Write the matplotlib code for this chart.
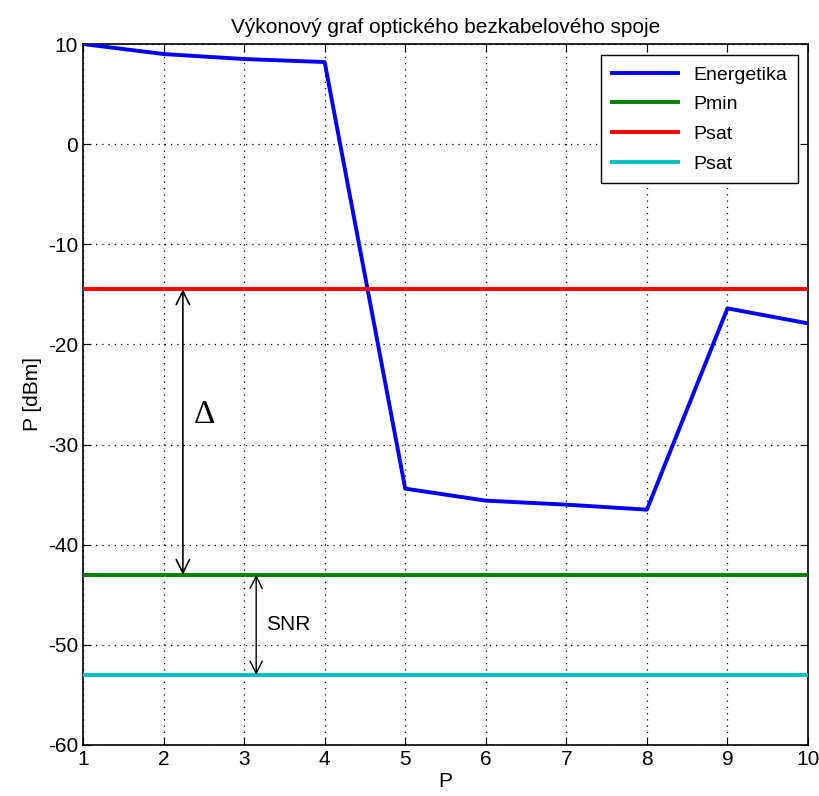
import matplotlib
matplotlib.use("Agg")
import matplotlib.pyplot as plt

plt.rcParams['font.family'] = ['Liberation Sans Narrow', 'Liberation Sans', 'DejaVu Sans']
plt.rcParams['axes.unicode_minus'] = False

x = [1, 2, 3, 4, 5, 6, 7, 8, 9, 10]
energetika = [10, 9.0, 8.5, 8.2, -34.4, -35.6, -36.0, -36.5, -16.4, -17.9]
p_min = -43
p_sat = -14.5
p_noise = -53

fig = plt.figure(figsize=(8.19, 7.96), dpi=100)
ax = fig.add_axes([0.1013, 0.0641, 0.8853, 0.8806])

ax.plot(x, energetika, color="#0000ff", lw=2.8, label="Energetika", zorder=3)
ax.plot([x[0], x[-1]], [p_min, p_min], color="#008000", lw=2.8, label="Pmin", zorder=3)
ax.plot([x[0], x[-1]], [p_sat, p_sat], color="#ff0000", lw=2.8, label="Psat", zorder=3)
ax.plot([x[0], x[-1]], [p_noise, p_noise], color="#00bfbf", lw=2.8, label="Psat", zorder=3)

ax.set_xlim(1, 10)
ax.set_ylim(-60, 10)
ax.set_xticks(range(1, 11))
ax.set_yticks(range(-60, 11, 10))
ax.grid(True, color="black", linestyle=(0, (1, 4)), lw=0.9)
ax.tick_params(direction="in", top=True, right=True, labelsize=15, length=6)
for s in ax.spines.values():
    s.set_linewidth(1.2)

ax.set_title("Výkonový graf optického bezkabelového spoje", fontsize=15, pad=8)
ax.set_xlabel("P", fontsize=15, labelpad=2)
ax.set_ylabel("P [dBm]", fontsize=15)

# sipky
ax.annotate("", xy=(2.24, p_sat), xytext=(2.24, p_min),
            arrowprops=dict(arrowstyle="<->", color="black", lw=1.2,
                            mutation_scale=24, shrinkA=0, shrinkB=0))
ax.text(2.38, -27, "Δ", fontsize=24, va="center", ha="left",
        family=["Liberation Serif", "DejaVu Serif"])
ax.annotate("", xy=(3.15, p_min), xytext=(3.15, p_noise),
            arrowprops=dict(arrowstyle="<->", color="black", lw=1.0,
                            mutation_scale=22, shrinkA=0, shrinkB=0))
ax.text(3.27, -48, "SNR", fontsize=15, va="center", ha="left")

leg = ax.legend(loc="upper right", fontsize=14, fancybox=False, framealpha=1,
                edgecolor="black", handlelength=3.4, borderpad=0.55,
                labelspacing=0.62, borderaxespad=0,
                bbox_to_anchor=(0.986, 0.984))
leg.get_frame().set_linewidth(1.0)

fig.savefig("out.png", dpi=100)
